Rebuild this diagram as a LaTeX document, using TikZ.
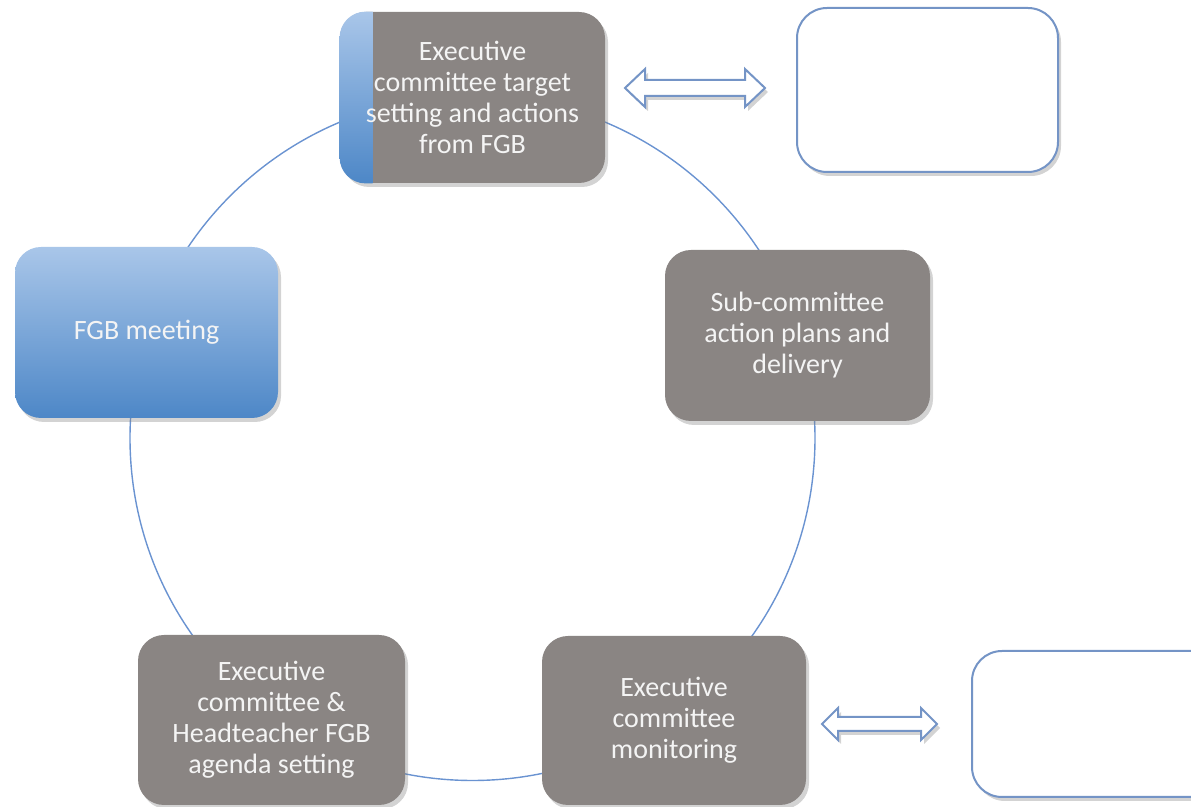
\documentclass[tikz,border=0pt]{standalone}
\usepackage{fontspec}
\setmainfont{Carlito}
\usetikzlibrary{shadows}
\definecolor{boxgray}{HTML}{8A8583}
\definecolor{linblue}{HTML}{6A93D1}
\definecolor{edgeblue}{HTML}{7494C6}
\definecolor{gtop}{HTML}{A9C6E9}
\definecolor{gbot}{HTML}{4D87C7}
\definecolor{txt}{HTML}{F4F4F4}
\begin{document}
\begin{tikzpicture}[x=0.5pt,y=-0.5pt,
  shad/.style={drop shadow={opacity=0.35,shadow xshift=1.5pt,shadow yshift=-2pt}},
  boxtext/.style={align=center,text=txt,inner sep=0pt,font=\fontsize{14pt}{15.5pt}\selectfont},
  graybox/.style={shad,fill=boxgray,rounded corners=13pt,minimum width=132.5pt,minimum height=85.5pt,inner sep=0pt,boxtext},
  bluebox/.style={shad,top color=gtop,bottom color=gbot,draw=none,rounded corners=13pt,minimum width=131.5pt,minimum height=85.5pt,inner sep=0pt,boxtext},
  whitebox/.style={shad,fill=white,draw=edgeblue,line width=1pt,rounded corners=15pt,inner sep=0pt},
  dblarrow/.style={shad,fill=white,draw=edgeblue,line width=1pt,line join=miter},
  ring/.style={draw=linblue,line width=0.7pt}
]
\useasboundingbox (0,0) rectangle (1191,807);
% cycle
\draw[ring] (472.5,438) circle [radius=171.25pt];
% top box with blue stripe
\node[graybox] (top) at (472.5,97.5) {};
\begin{scope}
  \clip[rounded corners=13pt] (top.north west) rectangle (top.south east);
  \shade[top color=gtop,bottom color=gbot] (top.north west) rectangle ([xshift=16.5pt]top.south west);
\end{scope}
\node[boxtext] (toptext) at (top.center) {Executive\\committee target\\setting and actions\\from FGB};
% other boxes
\node[bluebox] (fgb) at (146.5,332.5) {FGB meeting};
\node[graybox] (sub) at (797.5,335.5) {Sub-committee\\action plans and\\delivery};
\node[graybox,minimum width=132pt,minimum height=84.5pt] (mon) at (674,720.5) {Executive\\committee\\monitoring};
\node[graybox,minimum width=133.5pt,minimum height=85pt] (agenda) at (271.5,720) {Executive\\committee \&\\Headteacher FGB\\agenda setting};
% empty boxes
\node[whitebox,minimum width=130.5pt,minimum height=82pt] (tr) at (927.5,90) {};
\node[whitebox,minimum width=130pt,minimum height=73pt] (br) at (1102,724) {};
% double arrows
\coordinate (a1) at (695,88);
\draw[dblarrow] (a1) ++(-70,0) -- ++(20,-19) -- ++(0,11) -- ++(100,0) -- ++(0,-11) -- ++(20,19) -- ++(-20,19) -- ++(0,-11) -- ++(-100,0) -- ++(0,11) -- cycle;
\coordinate (a2) at (879.5,724);
\draw[dblarrow] (a2) ++(-57.5,0) -- ++(16,-16) -- ++(0,9) -- ++(83,0) -- ++(0,-9) -- ++(16,16) -- ++(-16,16) -- ++(0,-9) -- ++(-83,0) -- ++(0,9) -- cycle;
\end{tikzpicture}
\end{document}
